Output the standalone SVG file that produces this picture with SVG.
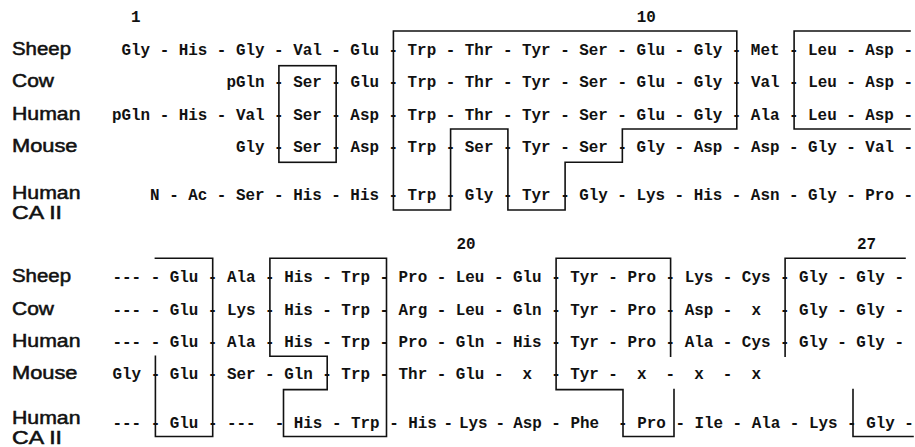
<svg xmlns="http://www.w3.org/2000/svg" width="915" height="447" viewBox="0 0 915 447">
  <style>
    .lbl { font-family: "Liberation Sans", Arial, sans-serif; font-size: 17.5px; fill: #111; stroke: #111; stroke-width: 0.5; }
    .seq { font-family: "Liberation Mono", "Courier New", monospace; font-size: 15.9px; font-weight: bold; fill: #111; white-space: pre; }
    .num { font-family: "Liberation Mono", "Courier New", monospace; font-size: 15.9px; font-weight: bold; fill: #111; }
    .box { fill: none; stroke: #111; stroke-width: 1.6; stroke-linejoin: miter; stroke-linecap: square; }
  </style>
  <rect width="915" height="447" fill="#fff"/>

  <!-- residue numbers -->
  <g id="numbers">
    <text class="num" x="131" y="21.5">1</text>
    <text class="num" x="636.7" y="21.5">10</text>
    <text class="num" x="456.5" y="248.5">20</text>
    <text class="num" x="857" y="248.5">27</text>
  </g>

  <!-- species labels, residues 1-14 -->
  <g id="labels-1">
    <text class="lbl" x="12" y="54.5" textLength="59" lengthAdjust="spacingAndGlyphs">Sheep</text>
    <text class="lbl" x="12" y="87" textLength="42" lengthAdjust="spacingAndGlyphs">Cow</text>
    <text class="lbl" x="12" y="119.5" textLength="68.5" lengthAdjust="spacingAndGlyphs">Human</text>
    <text class="lbl" x="12" y="151.5" textLength="65.5" lengthAdjust="spacingAndGlyphs">Mouse</text>
    <text class="lbl" x="12" y="198.5" textLength="68.5" lengthAdjust="spacingAndGlyphs">Human</text>
    <text class="lbl" x="12" y="218.5" textLength="50" lengthAdjust="spacingAndGlyphs">CA II</text>
  </g>

  <!-- sequences, residues 1-14 (monospace grid: x0 = 121.5, 9.54 px per char) -->
  <g id="seq-1" xml:space="preserve">
    <text id="sheep-1" class="seq" x="121.5" y="54.5">Gly - His - Gly - Val - Glu - Trp - Thr - Tyr - Ser - Glu - Gly - Met - Leu - Asp -</text>
    <text id="cow-1" class="seq" x="226.44" y="87">pGln - Ser - Glu - Trp - Thr - Tyr - Ser - Glu - Gly - Val - Leu - Asp -</text>
    <text id="human-1" class="seq" x="111.96" y="119.5">pGln - His - Val - Ser - Asp - Trp - Thr - Tyr - Ser - Glu - Gly - Ala - Leu - Asp -</text>
    <text id="mouse-1" class="seq" x="235.98" y="151.5">Gly - Ser - Asp - Trp - Ser - Tyr - Ser - Gly - Asp - Asp - Gly - Val -</text>
    <text id="ca2-1" class="seq" x="150.12" y="200">N - Ac - Ser - His - His - Trp - Gly - Tyr - Gly - Lys - His - Asn - Gly - Pro -</text>
  </g>

  <!-- homology boxes, residues 1-14 -->
  <g id="boxes-1">
    <rect class="box" x="278.9" y="65.7" width="57.25" height="96.6"/>
    <polygon class="box" points="393.4,31 736.8,31 736.8,129 622.35,129 622.35,162.3 565.1,162.3 565.1,210 507.9,210 507.9,129 450.6,129 450.6,210 393.4,210"/>
    <path class="box" d="M910 31H794.1V129H910"/>
  </g>

  <!-- species labels, residues 14-27 -->
  <g id="labels-2">
    <text class="lbl" x="12" y="282" textLength="59" lengthAdjust="spacingAndGlyphs">Sheep</text>
    <text class="lbl" x="12" y="314.5" textLength="42" lengthAdjust="spacingAndGlyphs">Cow</text>
    <text class="lbl" x="12" y="347" textLength="68.5" lengthAdjust="spacingAndGlyphs">Human</text>
    <text class="lbl" x="12" y="379" textLength="65.5" lengthAdjust="spacingAndGlyphs">Mouse</text>
    <text class="lbl" x="12" y="423.5" textLength="68.5" lengthAdjust="spacingAndGlyphs">Human</text>
    <text class="lbl" x="12" y="443.5" textLength="50" lengthAdjust="spacingAndGlyphs">CA II</text>
  </g>

  <!-- sequences, residues 14-27 (monospace grid: x0 = 112.5) -->
  <g id="seq-2" xml:space="preserve">
    <text id="sheep-2" class="seq" x="112.5" y="282">--- - Glu - Ala - His - Trp - Pro - Leu - Glu - Tyr - Pro - Lys - Cys - Gly - Gly -</text>
    <text id="cow-2" class="seq" x="112.5" y="314.5">--- - Glu - Lys - His - Trp - Arg - Leu - Gln - Tyr - Pro - Asp -  x  - Gly - Gly -</text>
    <text id="human-2" class="seq" x="112.5" y="347">--- - Glu - Ala - His - Trp - Pro - Gln - His - Tyr - Pro - Ala - Cys - Gly - Gly -</text>
    <text id="mouse-2" class="seq" x="112.5" y="379">Gly - Glu - Ser - Gln - Trp - Thr - Glu -  x  - Tyr -  x  -  x  -  x</text>
    <text id="ca2-2" class="seq" y="427.5"><tspan x="112.5">---</tspan><tspan x="150.7">-</tspan><tspan x="169.7">Glu</tspan><tspan x="207.9">-</tspan><tspan x="227">---</tspan><tspan x="274.7">-</tspan><tspan x="293.8">His</tspan><tspan x="331.9">-</tspan><tspan x="351">Trp</tspan><tspan x="389.2">-</tspan><tspan x="408.2">His</tspan><tspan x="443.5">-</tspan><tspan x="459">Lys</tspan><tspan x="495.5">-</tspan><tspan x="513.2">Asp</tspan><tspan x="551.3">-</tspan><tspan x="570.4">Phe</tspan><tspan x="618.1">-</tspan><tspan x="637.2">Pro</tspan><tspan x="675.4">-</tspan><tspan x="694.4">Ile</tspan><tspan x="732.6">-</tspan><tspan x="751.7">Ala</tspan><tspan x="789.8">-</tspan><tspan x="808.9">Lys</tspan><tspan x="847.1">-</tspan><tspan x="866.2">Gly</tspan><tspan x="904.3">-</tspan></text>
  </g>

  <!-- homology boxes, residues 14-27 -->
  <g id="boxes-2">
    <path class="box" d="M155.4 356.3V436.5H212.7V258.3H155.4"/>
    <path class="box" d="M269.9 258.3H386.5V436.5H283.5V389.6H327.2V356.3H269.9Z"/>
    <path class="box" d="M670.6 356.3V258.3H556.1V389.6H623V436.5H674V389.6"/>
    <path class="box" d="M905 258.3H785.1V356.3"/>
    <path class="box" d="M853 389.6V436.5H913"/>
  </g>
</svg>
